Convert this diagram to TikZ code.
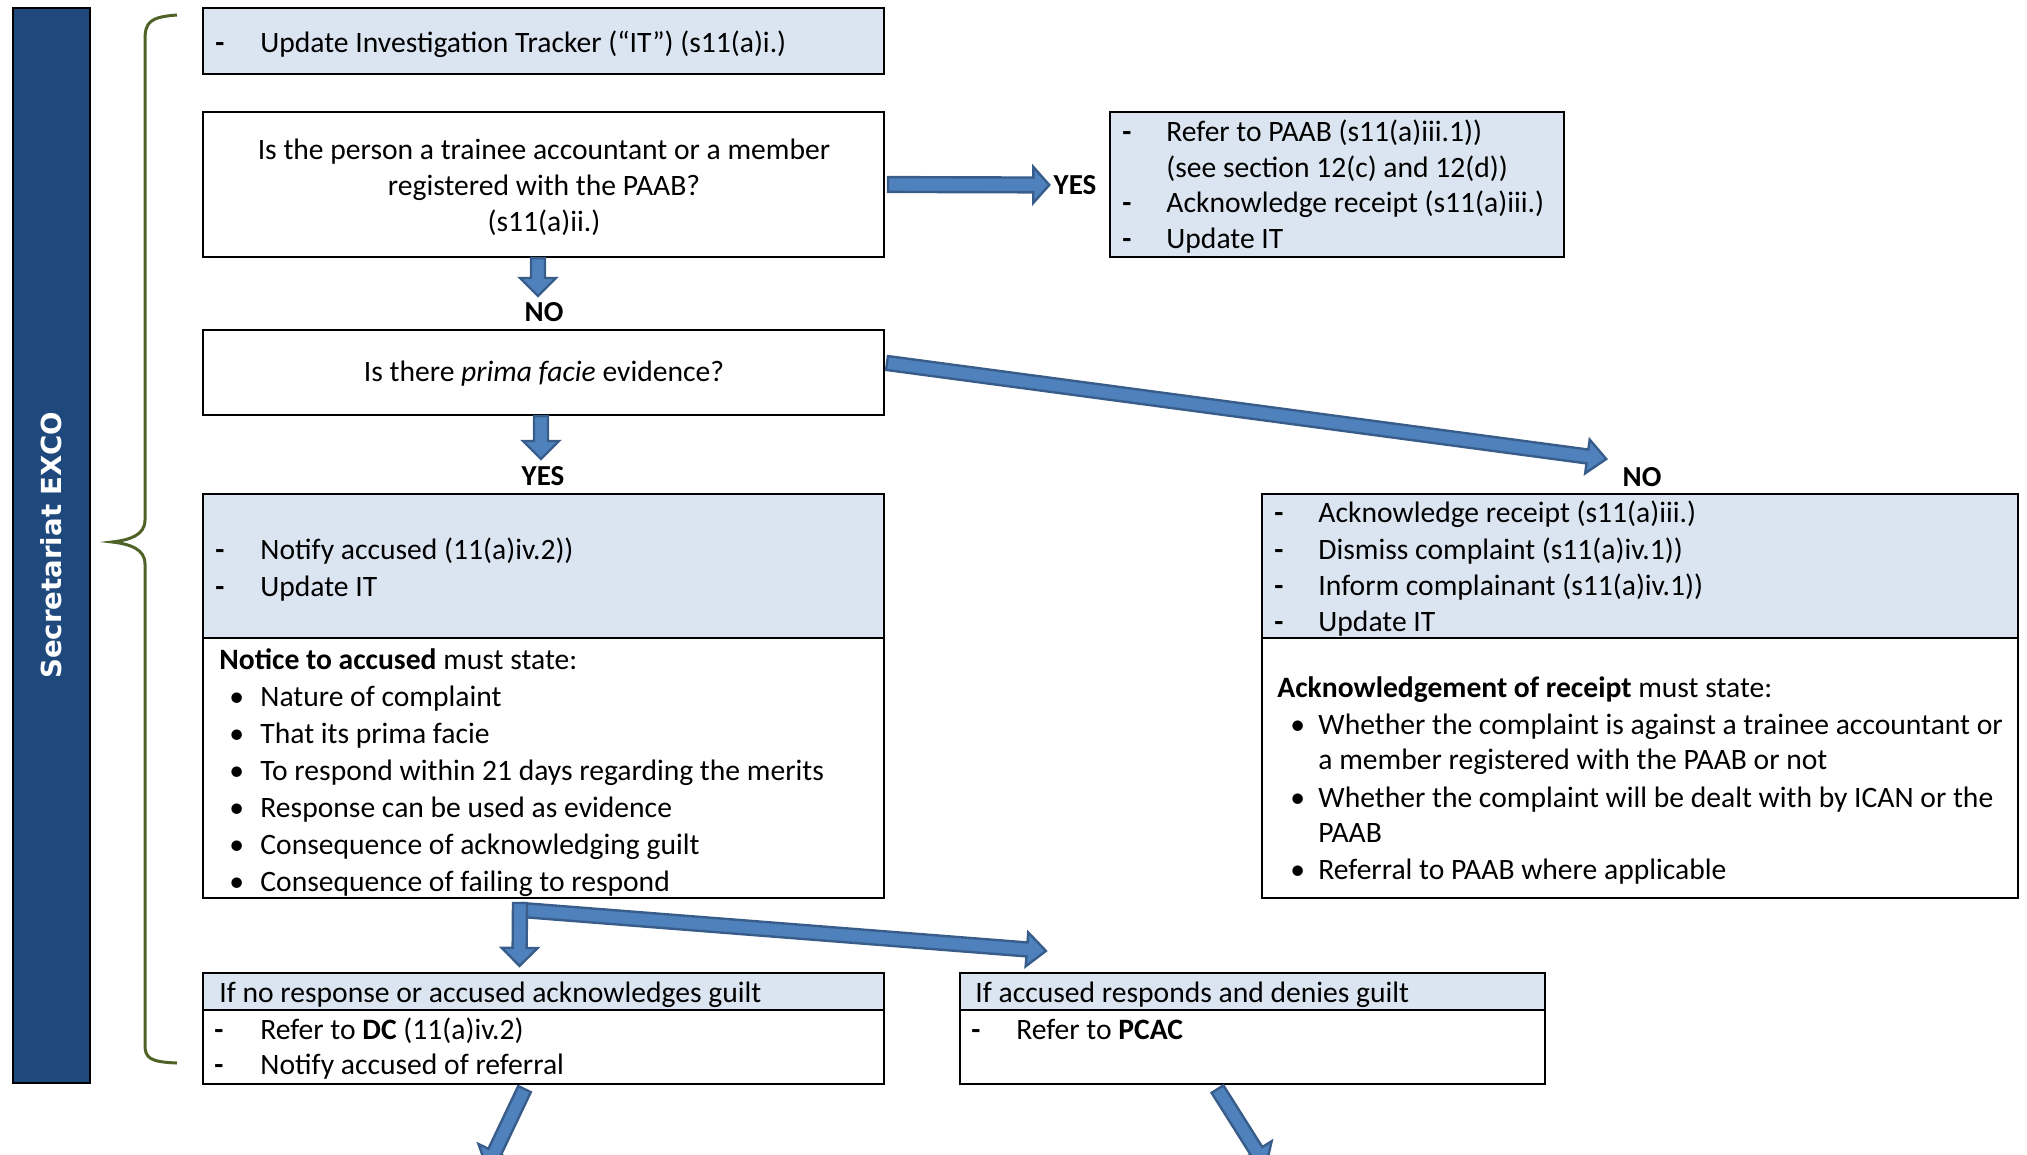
\documentclass[tikz,border=0pt]{standalone}
\usepackage{fontspec}
\setmainfont{Carlito}
\newfontfamily\verd{DejaVu Sans}
\usetikzlibrary{calc,fit}
\definecolor{barblue}{HTML}{1F497D}
\definecolor{lightbox}{HTML}{DBE5F1}
\definecolor{olive}{HTML}{4F6228}
\definecolor{arrfill}{HTML}{4F81BD}
\definecolor{arrline}{HTML}{385D8A}
\tikzset{
  boxnode/.style={draw=black, line width=1.1pt, inner sep=0pt},
  txt/.style={inner sep=0pt, anchor=west, text height=12.5pt, text depth=3pt},
  dsh/.style={txt, font=\fontsize{14.8}{17.5}\selectfont\bfseries},
  lbl/.style={inner sep=0pt, font=\fontsize{14.5}{17}\selectfont\bfseries},
  arrowstyle/.style={fill=arrfill, draw=arrline, line width=1.2pt, line join=miter},
}
% block arrow: #1 start, #2 end, #3 shaft half width, #4 head half width, #5 head length (pt)
\newcommand\blockarr[5]{%
  \coordinate (bh) at ($(#2)!#5!(#1)$);
  \filldraw[arrowstyle] ($(#1)!#3!90:(#2)$) -- ($(bh)!#3!-90:(#1)$) -- ($(bh)!#4!-90:(#1)$) -- (#2) -- ($(bh)!#4!90:(#1)$) -- ($(bh)!#3!90:(#1)$) -- ($(#1)!#3!-90:(#2)$) -- cycle;}
\begin{document}
\begin{tikzpicture}[x=0.5pt,y=-0.5pt, font=\fontsize{14.8}{17.5}\selectfont]
\useasboundingbox (0,0) rectangle (2027,1155);
% side bar
\node[fill=barblue, draw=black, line width=0.8pt, inner sep=0pt, fit={(13,8) (90,1083)}] (bar) {};
\node[rotate=90, text=white, font=\verd\bfseries\fontsize{13.8}{15}\selectfont] (bartxt) at (bar.center) {Secretariat EXCO};
% brace
\draw[olive, line width=1.5pt] (177,15) .. controls (150,17) and (145,22) .. (145,40) -- (145,520) .. controls (145,535) and (130,540) .. (112,542) .. controls (130,544) and (145,549) .. (145,564) -- (145,1045) .. controls (145,1058) and (150,1062) .. (177,1063);
% boxes
\node[boxnode, fill=lightbox, fit={(203,8) (884,74)}] (b1) {};
\node[boxnode, fill=white, fit={(203,112) (884,257)}] (b2) {};
\node[boxnode, fill=white, fit={(203,330) (884,415)}] (b3) {};
\node[boxnode, fill=lightbox, fit={(1110,112) (1564,257)}] (paab) {};
\node[boxnode, fill=lightbox, fit={(203,494) (884,638)}] (notify) {};
\node[boxnode, fill=white, fit={(203,638) (884,898)}] (notice) {};
\node[boxnode, fill=lightbox, fit={(1262,494) (2018,638)}] (dismiss) {};
\node[boxnode, fill=white, fit={(1262,638) (2018,898)}] (ack) {};
\node[boxnode, fill=lightbox, fit={(203,973) (884,1010)}] (blh) {};
\node[boxnode, fill=white, fit={(203,1010) (884,1084)}] (blb) {};
\node[boxnode, fill=lightbox, fit={(960,973) (1545,1010)}] (brh) {};
\node[boxnode, fill=white, fit={(960,1010) (1545,1084)}] (brb) {};
% texts
\node[dsh] (t1d) at (215,43) {-};
\node[txt] (t1) at (260,43) {Update Investigation Tracker (“IT”) (s11(a)i.)};
\node[inner sep=0pt, align=center, font=\fontsize{14.8}{18}\selectfont] (t2) at (544,187) {Is the person a trainee accountant or a member\\registered with the PAAB?\\(s11(a)ii.)};
\node[inner sep=0pt] (t3) at (544,374) {Is there \textit{prima facie} evidence?};
\node[dsh] (p1d) at (1122,132) {-};
\node[txt] (p1) at (1166,132) {Refer to PAAB (s11(a)iii.1))};
\node[txt] (p2) at (1166,168) {(see section 12(c) and 12(d))};
\node[dsh] (p3d) at (1122,203) {-};
\node[txt] (p3) at (1166,203) {Acknowledge receipt (s11(a)iii.)};
\node[dsh] (p4d) at (1122,239) {-};
\node[txt] (p4) at (1166,239) {Update IT};
\node[dsh] (n1d) at (215,550) {-};
\node[txt] (n1) at (260,550) {Notify accused (11(a)iv.2))};
\node[dsh] (n2d) at (215,587) {-};
\node[txt] (n2) at (260,587) {Update IT};
\node[txt] (nt) at (219,660) {\textbf{Notice to accused} must state:};
\foreach \yy/\tt [count=\i] in {697/Nature of complaint, 734/That its prima facie, 771/To respond within 21 days regarding the merits, 808/Response can be used as evidence, 845/Consequence of acknowledging guilt, 882/Consequence of failing to respond}{
  \node[txt] (nb\i) at (229,\yy) {•};
  \node[txt] (n\i t) at (260,\yy) {\tt};
}
\node[dsh] (d1d) at (1274,513) {-};
\node[txt] (d1) at (1318,513) {Acknowledge receipt (s11(a)iii.)};
\node[dsh] (d2d) at (1274,550) {-};
\node[txt] (d2) at (1318,550) {Dismiss complaint (s11(a)iv.1))};
\node[dsh] (d3d) at (1274,586) {-};
\node[txt] (d3) at (1318,586) {Inform complainant (s11(a)iv.1))};
\node[dsh] (d4d) at (1274,622) {-};
\node[txt] (d4) at (1318,622) {Update IT};
\node[txt] (at) at (1277,688) {\textbf{Acknowledgement of receipt} must state:};
\node[txt] (ab1) at (1290,725) {•};
\node[txt] (a1) at (1318,725) {Whether the complaint is against a trainee accountant or};
\node[txt] (a1b) at (1318,760) {a member registered with the PAAB or not};
\node[txt] (ab2) at (1290,798) {•};
\node[txt] (a2) at (1318,798) {Whether the complaint will be dealt with by ICAN or the};
\node[txt] (a2b) at (1318,833) {PAAB};
\node[txt] (ab3) at (1290,870) {•};
\node[txt] (a3) at (1318,870) {Referral to PAAB where applicable};
\node[txt] (blht) at (219,993) {If no response or accused acknowledges guilt};
\node[dsh] (bl1d) at (214,1030) {-};
\node[txt] (bl1) at (260,1030) {Refer to \textbf{DC} (11(a)iv.2)};
\node[dsh] (bl2d) at (214,1065) {-};
\node[txt] (bl2) at (260,1065) {Notify accused of referral};
\node[txt] (brht) at (975,993) {If accused responds and denies guilt};
\node[dsh] (br1d) at (971,1030) {-};
\node[txt] (br1) at (1016,1030) {Refer to \textbf{PCAC}};
% labels
\node[lbl] (lno1) at (544,312) {NO};
\node[lbl] (lyes1) at (1075,185) {YES};
\node[lbl] (lyes2) at (543,476) {YES};
\node[lbl] (lno2) at (1642,477) {NO};
% arrow endpoints
\coordinate (ya) at ($(b2.east)+(3,0)$);
\coordinate (yb) at ($(lyes1.west)+(-4,0)$);
\coordinate (na) at (b2.south -| 538,0);
\coordinate (nb) at ($(lno1.north)+(-6,-6)$);
\coordinate (da) at (887,363);
\coordinate (db) at ($(lno2.north west)+(-16,-8)$);
\coordinate (ea) at (b3.south -| 541,0);
\coordinate (eb) at ($(lyes2.north)+(-2,-7)$);
\coordinate (sa) at (520,903);
\coordinate (sb) at ($(blh.north)+(-24,-6)$);
\coordinate (sc) at (522,910);
\coordinate (sd) at ($(brh.north west)+(87,-21)$);
\coordinate (la) at ($(blb.south)+(-19,4)$);
\coordinate (lb) at (487,1168);
\coordinate (ra) at ($(brb.south)+(-35,4)$);
\coordinate (rb) at (1266,1166);
% arrows
\blockarr{ya}{yb}{3.7pt}{9pt}{8pt}
\blockarr{na}{nb}{3.5pt}{9pt}{9pt}
\blockarr{da}{db}{3.5pt}{8.5pt}{9.5pt}
\blockarr{ea}{eb}{3.5pt}{9pt}{9pt}
\blockarr{sc}{sd}{3.5pt}{8.5pt}{9.5pt}
\blockarr{sa}{sb}{3.5pt}{9pt}{9pt}
\blockarr{la}{lb}{3.5pt}{9pt}{9pt}
\blockarr{ra}{rb}{3.5pt}{9pt}{9pt}
\end{tikzpicture}
\end{document}
